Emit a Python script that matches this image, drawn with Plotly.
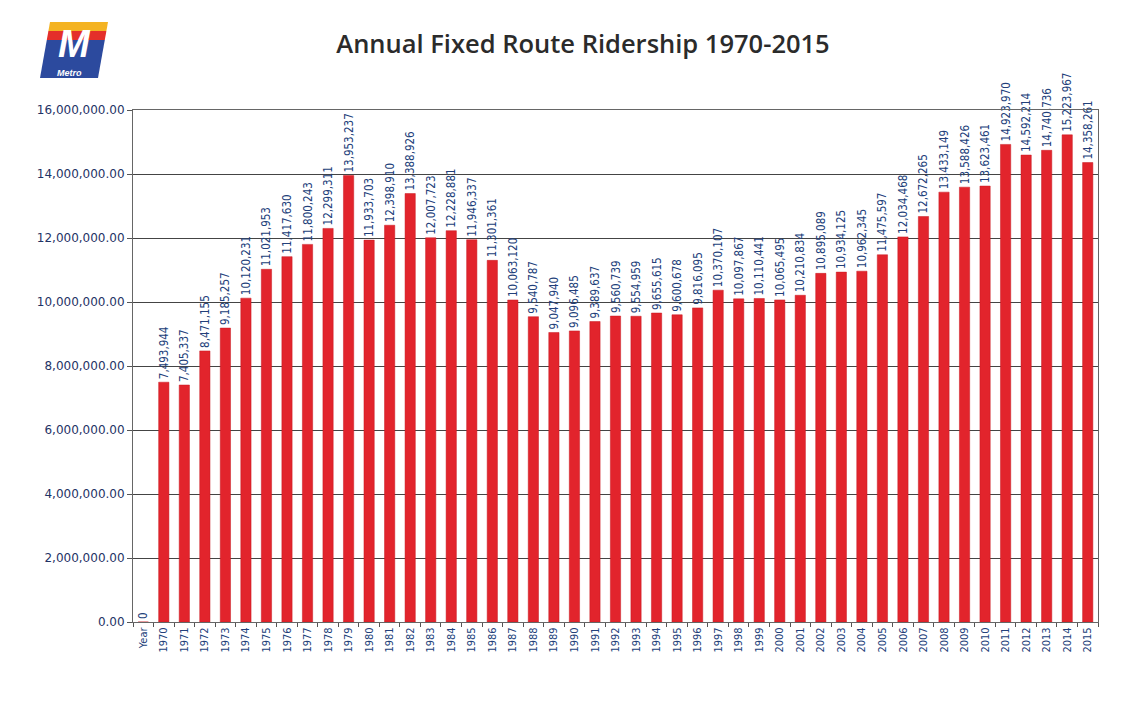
import plotly.graph_objects as go

categories = ["Year"] + [str(y) for y in range(1970, 2016)]
riders = [0,
    7493944, 7405337, 8471155, 9185257, 10120231, 11021953, 11417630, 11800243,
    12299311, 13953237, 11933703, 12398910, 13388926, 12007723, 12228881, 11946337,
    11301361, 10063120, 9540787, 9047940, 9096485, 9389637, 9560739, 9554959,
    9655615, 9600678, 9816095, 10370107, 10097867, 10110441, 10065495, 10210834,
    10895089, 10934125, 10962345, 11475597, 12034468, 12672265, 13433149, 13588426,
    13623461, 14923970, 14592214, 14740736, 15223967, 14358261]
labels = [f"{v:,}" for v in riders]
y_ticks = list(range(0, 16000001, 2000000))
y_tick_text = [f"{v:,.2f}" for v in y_ticks]

W, H = 1147, 704
ML, MR, MT, MB = 125, 57, 102, 90
PW, PH = W - ML - MR, H - MT - MB
OFF = 8  # page body margin


def px(x):
    return (x - OFF - ML) / PW


def py(y):
    return 1 - (y - OFF - MT) / PH


fig = go.Figure(go.Bar(
    x=categories, y=riders, text=labels,
    textposition="outside", textangle=-90, cliponaxis=False,
    constraintext="none",
    textfont=dict(family="DejaVu Sans Condensed, Liberation Sans Narrow, Arial", size=11.5, color="#22407a"),
    marker=dict(color="#e2242c", line=dict(color="#c81820", width=0.5)),
))

fig.update_layout(
    width=W, height=H,
    margin=dict(l=ML, r=MR, t=MT, b=MB),
    paper_bgcolor="white", plot_bgcolor="white",
    bargap=0.5, showlegend=False,
    title=dict(text="Annual Fixed Route Ridership 1970-2015", x=(583 - OFF) / W, xanchor="center",
               y=1 - (44 - OFF) / H, yanchor="middle",
               font=dict(family="Open Sans", size=25.5, color="#2b2b2b", weight=600)),
    font=dict(family="Open Sans"),
)
fig.update_xaxes(
    type="category", tickangle=-90, ticks="outside", ticklen=4, tickcolor="#555",
    tickson="boundaries", showline=True, linecolor="#666", mirror=True,
    tickfont=dict(family="DejaVu Sans Condensed, Arial", size=11, color="#22407a"),
)
fig.update_yaxes(
    range=[0, 16000000], tickvals=y_ticks, ticktext=y_tick_text,
    showgrid=True, gridcolor="#444", gridwidth=1,
    ticks="outside", ticklen=5, tickcolor="#555", showline=True, linecolor="#666", mirror=True,
    tickfont=dict(family="DejaVu Sans, Verdana", size=12, color="#1f3366"),
    zeroline=False,
)


# Metro logo: slanted bands
def xl(y):
    return 50 - (y - 22) * 10 / 56


def band(y0, y1, color):
    pts = [(xl(y0), y0), (xl(y0) + 58, y0), (xl(y1) + 58, y1), (xl(y1), y1)]
    path = "M " + " L ".join(f"{px(a)},{py(b)}" for a, b in pts) + " Z"
    fig.add_shape(type="path", xref="paper", yref="paper", path=path,
                  fillcolor=color, line=dict(width=0), layer="above")


band(22, 31, "#f4b322")
band(31, 40, "#e42f2a")
band(40, 78, "#2c4a9e")
fig.add_annotation(text="<b><i>M</i></b>", xref="paper", yref="paper", x=px(74), y=py(44),
                   showarrow=False, font=dict(family="Liberation Sans", size=38, color="white"),
                   xanchor="center", yanchor="middle")
fig.add_annotation(text="<b><i>Metro</i></b>", xref="paper", yref="paper", x=px(69), y=py(72.5),
                   showarrow=False, font=dict(family="Liberation Sans", size=9, color="white"),
                   xanchor="center", yanchor="middle")

fig.write_html("out.html")
